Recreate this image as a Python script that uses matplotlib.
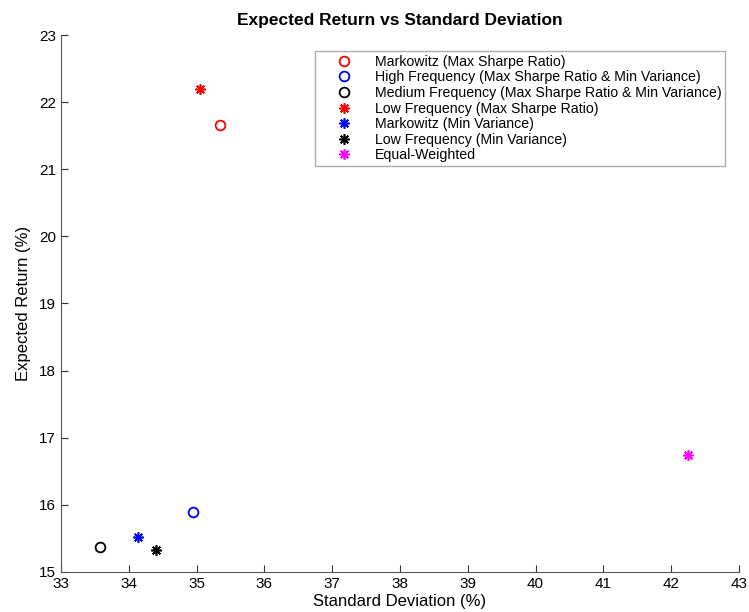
import matplotlib
matplotlib.use("Agg")
import matplotlib.pyplot as plt

plt.rcParams['font.family'] = ['Liberation Sans', 'DejaVu Sans']

# Portfolio risk/return points (standard deviation %, expected return %)
labels = [
    "Markowitz (Max Sharpe Ratio)",
    "High Frequency (Max Sharpe Ratio & Min Variance)",
    "Medium Frequency (Max Sharpe Ratio & Min Variance)",
    "Low Frequency (Max Sharpe Ratio)",
    "Markowitz (Min Variance)",
    "Low Frequency (Min Variance)",
    "Equal-Weighted",
]
std_dev = [35.35, 34.95, 33.58, 35.05, 34.14, 34.40, 42.25]
exp_ret = [21.66, 15.89, 15.37, 22.20, 15.52, 15.33, 16.75]
colors = ["#ff0000", "#0000ff", "#000000", "#ff0000", "#0000ff", "#000000", "#ff00ff"]
kinds = ["o", "o", "o", "*", "*", "*", "*"]

x_ticks = list(range(33, 44))
y_ticks = list(range(15, 24))

fig = plt.figure(figsize=(7.49, 6.12), dpi=100)
ax = fig.add_axes([0.0814, 0.0654, 0.9052, 0.8774])

asterisk = (8, 2, 0)
for lab, x, y, c, k in zip(labels, std_dev, exp_ret, colors, kinds):
    if k == "o":
        ax.plot([x], [y], linestyle="none", marker="o", markersize=7,
                markerfacecolor="none", markeredgecolor=c, markeredgewidth=1.3,
                label=lab)
    else:
        ax.plot([x], [y], linestyle="none", marker=asterisk, markersize=7.5,
                color=c, markeredgewidth=1.2, label=lab)

ax.set_xlim(33, 43)
ax.set_ylim(15, 23)
ax.set_xticks(x_ticks)
ax.set_yticks(y_ticks)
ax.tick_params(direction="in", length=5, width=0.8, labelsize=11, colors="#333333",
               labelcolor="black")
for side in ("top", "right"):
    ax.spines[side].set_visible(False)
for side in ("left", "bottom"):
    ax.spines[side].set_color("#555555")
    ax.spines[side].set_linewidth(0.8)

ax.set_xlabel("Standard Deviation (%)", fontsize=12, labelpad=2)
ax.set_ylabel("Expected Return (%)", fontsize=12, labelpad=6)
ax.set_title("Expected Return vs Standard Deviation", fontsize=12.5,
             fontweight="bold", pad=7)

leg = ax.legend(loc="upper right", bbox_to_anchor=(0.980, 0.971), fontsize=10.2,
                frameon=True, fancybox=False, edgecolor="#999999",
                handletextpad=0.42, handlelength=3.5, labelspacing=0.11,
                borderpad=0.3, borderaxespad=0.0)
leg.get_frame().set_linewidth(1.0)

fig.savefig("out.png", dpi=100)
